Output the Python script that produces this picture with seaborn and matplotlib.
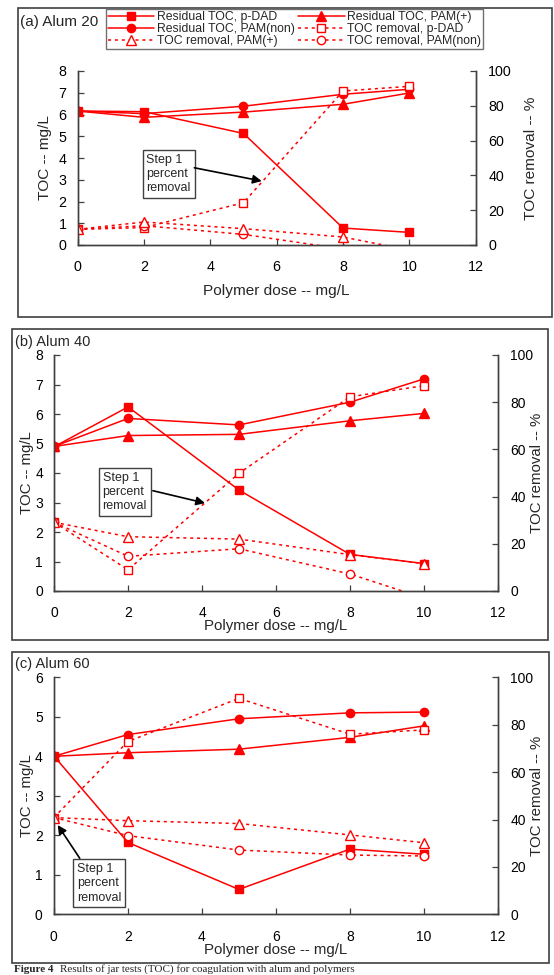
import numpy as np
import pandas as pd
import matplotlib
matplotlib.use('Agg')
import matplotlib.pyplot as plt
import seaborn as sns
from matplotlib.patches import Rectangle

sns.set_style('white')
plt.rcParams['font.family'] = ['Liberation Sans', 'DejaVu Sans']

W, H = 554, 975

dose = [0, 2, 5, 8, 10]
x_ticks = [0, 2, 4, 6, 8, 10, 12]

# (a) Alum 20
a_res_pdad = [6.16, 6.13, 5.13, 0.78, 0.58]
a_res_pamnon = [6.16, 6.04, 6.38, 6.93, 7.16]
a_res_pamplus = [6.16, 5.87, 6.11, 6.47, 6.99]
a_rem_pdad = [9.0, 10.0, 24.3, 88.5, 91.2]
a_rem_pamplus = [9.0, 13.2, 9.4, 4.6, -3.0]
a_rem_pamnon = [9.0, 11.1, 6.1, -2.3, -5.0]

# (b) Alum 40
b_res_pdad = [4.89, 6.24, 3.42, 1.24, 0.93]
b_res_pamnon = [4.90, 5.85, 5.63, 6.40, 7.19]
b_res_pamplus = [4.90, 5.27, 5.31, 5.77, 6.02]
b_rem_pdad = [29.1, 9.0, 49.9, 82.3, 87.0]
b_rem_pamplus = [29.1, 23.0, 22.0, 15.4, 11.6]
b_rem_pamnon = [29.1, 14.7, 17.9, 7.2, -3.0]

# (c) Alum 60
c_res_pdad = [4.01, 1.82, 0.63, 1.65, 1.52]
c_res_pamnon = [4.00, 4.55, 4.95, 5.10, 5.12]
c_res_pamplus = [4.00, 4.09, 4.18, 4.48, 4.77]
c_rem_pdad = [40.8, 72.9, 91.1, 76.0, 77.8]
c_rem_pamplus = [40.8, 39.5, 38.3, 33.5, 30.2]
c_rem_pamnon = [40.8, 33.2, 27.1, 25.0, 24.6]

res_labels = ['Residual TOC, p-DAD', 'Residual TOC, PAM(non)', 'Residual TOC, PAM(+)']
rem_labels = ['TOC removal, p-DAD', 'TOC removal, PAM(non)', 'TOC removal, PAM(+)']
marks = ['s', 'o', '^']
msizes = [5.5, 6, 6.5]

RED = '#ff0000'
GREY = '#404040'

fig = plt.figure(figsize=(W / 100, H / 100), dpi=100)


def px_axes(l, t, r, b):
    return fig.add_axes([l / W, 1 - b / H, (r - l) / W, (b - t) / H])


def frame(l, t, r, b):
    fig.add_artist(Rectangle((l / W, 1 - b / H), (r - l) / W, (b - t) / H,
                             transform=fig.transFigure, fill=False,
                             ec=GREY, lw=1.2))


def draw_panel(ax, res, rem, ymax, fs, xl_y, yl_x, yr_x):
    ax2 = ax.twinx()
    for vals, mk, ms, lab in zip(res, marks, msizes, res_labels):
        sns.lineplot(x=dose, y=vals, ax=ax, color=RED, marker=mk, markersize=ms,
                     markeredgecolor=RED, markerfacecolor=RED, markeredgewidth=1,
                     linewidth=1.1, label=lab, legend=False)
    for vals, mk, ms, lab in zip(rem, marks, msizes, rem_labels):
        sns.lineplot(x=dose, y=vals, ax=ax2, color=RED, marker=mk, markersize=ms,
                     markeredgecolor=RED, markerfacecolor='white', markeredgewidth=1,
                     linewidth=1.1, linestyle=(0, (2, 2.5)), label=lab, legend=False)
    ax.set_xlim(0, 12)
    ax.set_ylim(0, ymax)
    ax2.set_ylim(0, 100)
    ax.set_xticks(x_ticks)
    ax.set_yticks(range(0, ymax + 1))
    ax2.set_yticks(range(0, 101, 20))
    for a in (ax, ax2):
        a.spines['top'].set_visible(False)
        for s in a.spines.values():
            s.set_color(GREY)
            s.set_linewidth(1)
        a.tick_params(direction='in', length=4, width=0.9, color=GREY,
                      labelcolor='black', labelsize=fs)
    ax.tick_params(axis='x', pad=11)
    ax.tick_params(axis='y', pad=8, left=True, right=False)
    ax.tick_params(axis='x', bottom=True)
    ax2.tick_params(axis='y', pad=9, right=True)
    ax.set_xlabel('Polymer dose -- mg/L', fontsize=fs + 0.8)
    ax.set_ylabel('TOC -- mg/L', fontsize=fs + 0.8)
    ax2.set_ylabel('TOC removal -- %', fontsize=fs + 0.8)
    ax.xaxis.set_label_coords(0.5, xl_y)
    ax.yaxis.set_label_coords(yl_x, 0.5)
    ax2.yaxis.set_label_coords(yr_x, 0.5)
    for a in (ax, ax2):
        if a.get_legend() is not None:
            a.get_legend().remove()
    return ax2


def step_note(ax, ax2, box_xy, tail, head):
    ax2.annotate('Step 1\npercent\nremoval', xy=box_xy, xycoords=ax.transData,
                 xytext=(3.5, -3.5), textcoords='offset points', ha='left', va='top',
                 fontsize=9, linespacing=1.25,
                 bbox=dict(boxstyle='square,pad=0.3', fc='white', ec=GREY, lw=1))
    ax2.annotate('', xy=head, xycoords=ax.transData, xytext=tail, textcoords=ax.transData,
                 arrowprops=dict(arrowstyle='-|>', color='black', lw=1.2,
                                 mutation_scale=13, shrinkA=0, shrinkB=0))


# panel (a)
frame(17.7, 8.3, 551.8, 316.7)
ax_a = px_axes(77.5, 71, 475.8, 245)
ax2_a = draw_panel(ax_a, [a_res_pdad, a_res_pamnon, a_res_pamplus],
                   [a_rem_pdad, a_rem_pamnon, a_rem_pamplus], 8, 10.3,
                   -0.225, -0.065, 1.12)
step_note(ax_a, ax2_a, (1.93, 4.41), (3.52, 3.55), (5.55, 2.94))
fig.text(20.5 / W, 1 - 21.7 / H, '(a) Alum 20', fontsize=11, ha='left', va='center')

h1, l1 = ax_a.get_legend_handles_labels()
h2, l2 = ax2_a.get_legend_handles_labels()
hd = dict(zip(l1 + l2, h1 + h2))
order = ['Residual TOC, p-DAD', 'Residual TOC, PAM(non)', 'TOC removal, PAM(+)',
         'Residual TOC, PAM(+)', 'TOC removal, p-DAD', 'TOC removal, PAM(non)']
fig.legend([hd[k] for k in order], order, ncol=2, loc='upper left',
           bbox_to_anchor=(106 / W, 1 - 9 / H), fontsize=8.8, frameon=True,
           fancybox=False, edgecolor='#707070', framealpha=1, borderpad=0.15,
           labelspacing=0.0, handlelength=3.8, handletextpad=0.2,
           columnspacing=0.3, numpoints=1, borderaxespad=0)

# panel (b)
frame(12.4, 329.3, 548.3, 640)
ax_b = px_axes(54.1, 355, 498, 591)
ax2_b = draw_panel(ax_b, [b_res_pdad, b_res_pamnon, b_res_pamplus],
                   [b_rem_pdad, b_rem_pamnon, b_rem_pamplus], 8, 10,
                   -0.12, -0.045, 1.072)
step_note(ax_b, ax2_b, (1.18, 4.21), (2.67, 3.40), (4.08, 2.98))
fig.text(15 / W, 1 - 341.7 / H, '(b) Alum 40', fontsize=10.5, ha='left', va='center')

# panel (c)
frame(12.4, 652.3, 549, 962.7)
ax_c = px_axes(53.8, 677.3, 498, 914.3)
ax2_c = draw_panel(ax_c, [c_res_pdad, c_res_pamnon, c_res_pamplus],
                   [c_rem_pdad, c_rem_pamnon, c_rem_pamplus], 6, 10,
                   -0.12, -0.045, 1.072)
step_note(ax_c, ax2_c, (0.49, 1.42), (0.70, 1.42), (0.105, 2.26))
fig.text(15 / W, 1 - 664 / H, '(c) Alum 60', fontsize=10.5, ha='left', va='center')

# caption under the last panel
fig.text(14 / W, 1 - 974.5 / H, 'Figure 4', fontsize=8, fontweight='bold',
         family=['Liberation Serif', 'DejaVu Serif'], ha='left', va='bottom')
fig.text(60 / W, 1 - 974.5 / H, 'Results of jar tests (TOC) for coagulation with alum and polymers',
         fontsize=8, family=['Liberation Serif', 'DejaVu Serif'], ha='left', va='bottom')

fig.savefig('out.png', dpi=100)
